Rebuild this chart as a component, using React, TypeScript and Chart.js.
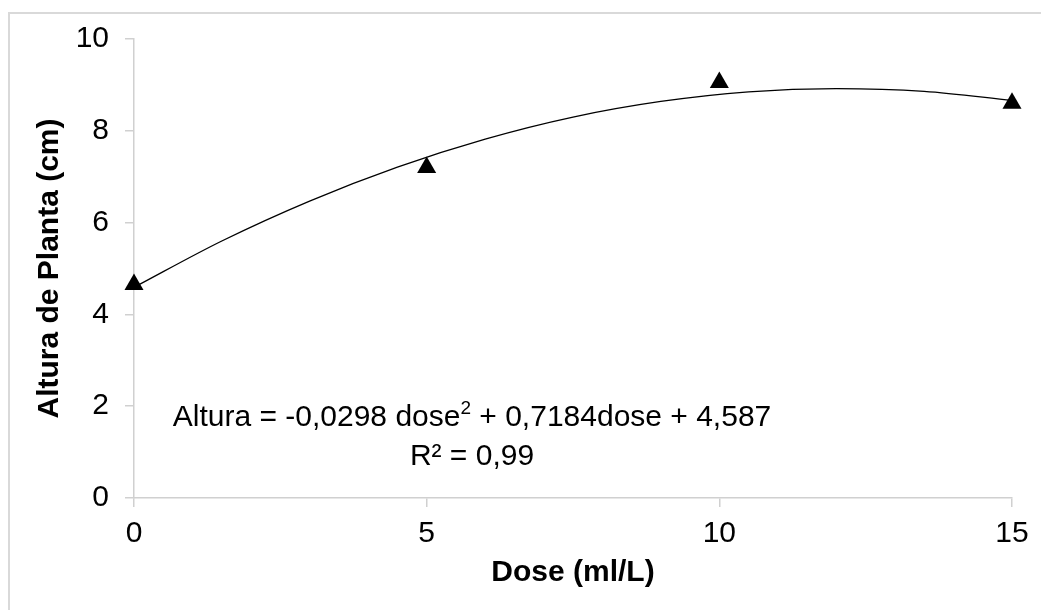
import React, { useEffect, useRef } from "react";
import { Chart, registerables } from "chart.js";

Chart.register(...registerables);

// Observed means (triangles)
const doseLevels = [0, 5, 10, 15];
const plantHeight = [4.65, 7.2, 9.05, 8.6];

// Fitted curve
const trendDose = [0, 1.5, 3, 4.5, 6, 7.5, 9, 10.5, 12, 13.5, 15];
const trendHeight = [4.59, 5.6, 6.47, 7.21, 7.82, 8.3, 8.64, 8.85, 8.92, 8.86, 8.66];

const xTicks = [0, 5, 10, 15];
const yTicks = [0, 2, 4, 6, 8, 10];

const equationParts = ["Altura = -0,0298 dose", "2", " + 0,7184dose + 4,587"];
const r2Label = "R² = 0,99";
const xTitle = "Dose (ml/L)";
const yTitle = "Altura de Planta (cm)";

const FONT = "'Liberation Sans', Arial, sans-serif";
const AXIS_COLOR = "#d0d0d0";

const equationPlugin = {
  id: "equation",
  afterDatasetsDraw(chart: any) {
    const ctx = chart.ctx;
    const cx = 472;
    const y1 = 418;
    const y2 = 457;
    ctx.save();
    ctx.fillStyle = "#000";
    ctx.textBaseline = "middle";
    ctx.textAlign = "left";
    const main = `30px ${FONT}`;
    const sup = `19px ${FONT}`;
    ctx.font = main;
    const w0 = ctx.measureText(equationParts[0]).width;
    const w2 = ctx.measureText(equationParts[2]).width;
    ctx.font = sup;
    const w1 = ctx.measureText(equationParts[1]).width;
    const total = w0 + w1 + w2;
    let x = cx - total / 2;
    ctx.font = main;
    ctx.fillText(equationParts[0], x, y1);
    x += w0;
    ctx.font = sup;
    ctx.fillText(equationParts[1], x, y1 - 9);
    x += w1;
    ctx.font = main;
    ctx.fillText(equationParts[2], x, y1);
    ctx.textAlign = "center";
    ctx.fillText(r2Label, cx, y2);
    ctx.restore();
  },
};

export default function App() {
  const ref = useRef<HTMLCanvasElement | null>(null);

  useEffect(() => {
    if (!ref.current) return;
    const chart = new Chart(ref.current, {
      type: "scatter",
      data: {
        datasets: [
          {
            type: "line",
            data: trendDose.map((d, i) => ({ x: d, y: trendHeight[i] })),
            borderColor: "#000",
            borderWidth: 1.3,
            pointRadius: 0,
            tension: 0.4,
            cubicInterpolationMode: "monotone",
            fill: false,
            clip: false,
          },
          {
            type: "scatter",
            data: doseLevels.map((d, i) => ({ x: d, y: plantHeight[i] })),
            pointStyle: "triangle",
            pointRadius: 11,
            backgroundColor: "#000",
            borderColor: "#000",
            borderWidth: 0,
            clip: false,
          },
        ],
      },
      options: {
        responsive: false,
        animation: false,
        devicePixelRatio: 1,
        layout: { padding: { top: 39, right: 29, bottom: 0, left: 0 } },
        plugins: {
          legend: { display: false },
          tooltip: { enabled: false },
        },
        scales: {
          x: {
            type: "linear",
            min: 0,
            max: 15,
            afterBuildTicks: (s: any) => {
              s.ticks = xTicks.map((v) => ({ value: v }));
            },
            afterFit: (s: any) => {
              s.height = 112;
            },
            grid: {
              drawOnChartArea: false,
              drawTicks: true,
              tickLength: 9,
              color: AXIS_COLOR,
              lineWidth: 1.5,
            },
            border: { display: true, color: AXIS_COLOR, width: 1.5 },
            ticks: {
              color: "#000",
              padding: 9,
              font: { family: FONT, size: 30 },
              maxRotation: 0,
            },
            title: {
              display: true,
              text: xTitle,
              color: "#000",
              font: { family: FONT, size: 30, weight: "bold" },
              padding: { top: 0, bottom: 19 },
            },
          },
          y: {
            type: "linear",
            min: 0,
            max: 10,
            afterBuildTicks: (s: any) => {
              s.ticks = yTicks.map((v) => ({ value: v }));
            },
            afterFit: (s: any) => {
              s.width = 134;
            },
            grid: {
              drawOnChartArea: false,
              drawTicks: true,
              tickLength: 9,
              color: AXIS_COLOR,
              lineWidth: 1.5,
            },
            border: { display: true, color: AXIS_COLOR, width: 1.5 },
            ticks: {
              color: "#000",
              padding: 16,
              font: { family: FONT, size: 30 },
            },
            title: {
              display: true,
              text: yTitle,
              color: "#000",
              font: { family: FONT, size: 30, weight: "bold" },
              padding: { top: 32, bottom: 0 },
            },
          },
        },
      },
      plugins: [equationPlugin],
    } as any);
    return () => chart.destroy();
  }, []);

  return (
    <div
      style={{
        position: "absolute",
        left: 0,
        top: 0,
        width: 1041,
        height: 610,
        overflow: "hidden",
        background: "#fff",
      }}
    >
      <div
        style={{
          position: "absolute",
          left: 8,
          top: 12,
          width: 1200,
          height: 800,
          borderTop: "2px solid #d9d9d9",
          borderLeft: "2px solid #d9d9d9",
        }}
      />
      <canvas
        ref={ref}
        width={1041}
        height={610}
        style={{ position: "absolute", left: 0, top: 0 }}
      />
    </div>
  );
}
